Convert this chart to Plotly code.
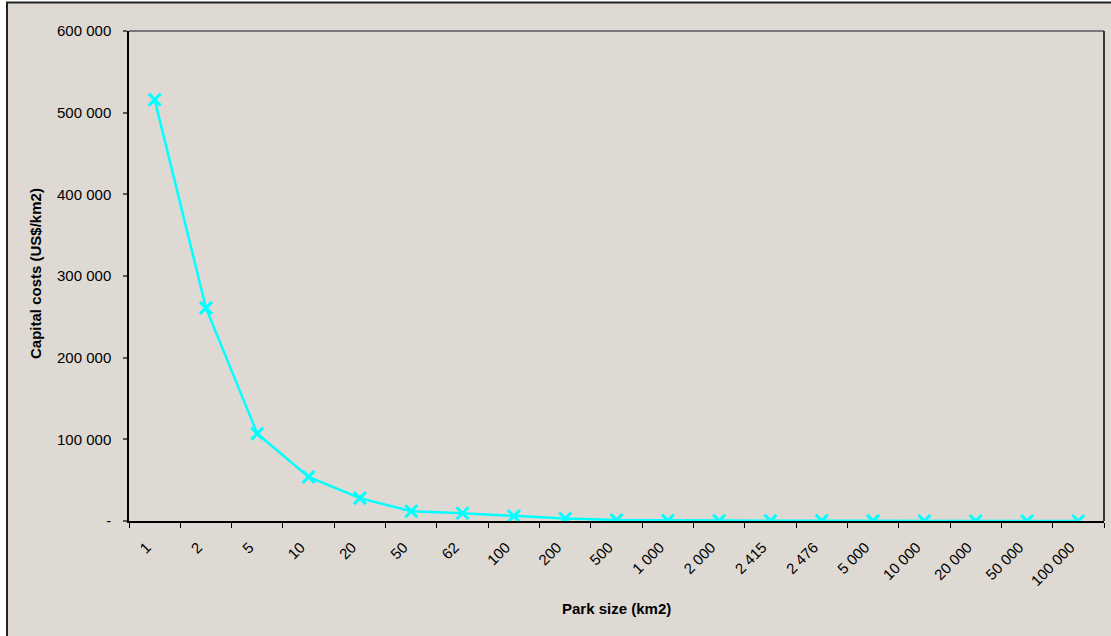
import plotly.graph_objects as go

# Park size categories (km2) and capital cost per km2 (US$)
park_sizes = ["1", "2", "5", "10", "20", "50", "62", "100", "200", "500",
              "1 000", "2 000", "2 415", "2 476", "5 000", "10 000",
              "20 000", "50 000", "100 000"]
capital_costs = [516000, 261000, 107000, 54000, 28000, 12000, 9500, 6000,
                 3000, 1200, 600, 300, 250, 240, 120, 60, 30, 12, 6]

y_tick_values = [0, 100000, 200000, 300000, 400000, 500000, 600000]
y_tick_labels = ["-", "100 000", "200 000", "300 000", "400 000", "500 000", "600 000"]

BG = "#DFD9D3"
CYAN = "#00FFFF"
FONT = "Liberation Sans, Arial, sans-serif"

W, H = 1111, 636
L, R, T, B = 129, 7, 31, 115
pw, ph = W - L - R, H - T - B


def px_to_paper_x(px):
    return (px - L) / pw


def px_to_paper_y(py):
    return (H - B - py) / ph


fig = go.Figure()
fig.add_trace(go.Scatter(
    x=park_sizes,
    y=capital_costs,
    mode="lines+markers",
    line=dict(color=CYAN, width=2.5),
    marker=dict(symbol="x-thin", size=12, color=CYAN,
                line=dict(color=CYAN, width=3)),
    showlegend=False,
    hoverinfo="x+y",
))

fig.update_layout(
    width=W, height=H,
    margin=dict(l=L, r=R, t=T, b=B, pad=0),
    paper_bgcolor="white",
    plot_bgcolor=BG,
    font=dict(family=FONT, size=15, color="black"),
    xaxis=dict(
        type="category",
        tickson="boundaries",
        ticks="outside", ticklen=5, tickcolor="black", tickwidth=1,
        showline=True, linecolor="black", linewidth=1.5,
        showgrid=False, zeroline=False,
        tickangle=-45,
        tickfont=dict(size=15, family=FONT),
        ticklabelstandoff=10,
        ticklabelshift=-8,
        range=[-0.5, len(park_sizes) - 0.5],
    ),
    yaxis=dict(
        range=[0, 600000],
        tickvals=y_tick_values, ticktext=y_tick_labels,
        ticks="outside", ticklen=4, tickcolor="#555555", tickwidth=1.5,
        showline=True, linecolor="black", linewidth=1.5,
        showgrid=False, zeroline=False,
        tickfont=dict(size=15, family=FONT),
        ticklabelstandoff=9,
    ),
    shapes=[
        # outer frame of the chart area
        dict(type="rect", xref="paper", yref="paper", layer="below",
             x0=px_to_paper_x(7), x1=px_to_paper_x(1120),
             y0=px_to_paper_y(645), y1=px_to_paper_y(2.5),
             fillcolor=BG, line=dict(color="#222222", width=2)),
        # top edge of the plot area
        dict(type="line", xref="paper", yref="paper",
             x0=0, x1=1, y0=1, y1=1,
             line=dict(color="#777777", width=2)),
        # right edge of the plot area
        dict(type="line", xref="paper", yref="paper",
             x0=1, x1=1, y0=0, y1=1,
             line=dict(color="black", width=1.5)),
    ],
    annotations=[
        dict(text="<b>Park size (km2)</b>", xref="paper", yref="paper",
             x=px_to_paper_x(616.5), y=px_to_paper_y(608), xanchor="center", yanchor="middle",
             showarrow=False, font=dict(size=15, family=FONT)),
        dict(text="<b>Capital costs (US$/km2)</b>", xref="paper", yref="paper",
             x=px_to_paper_x(35), y=px_to_paper_y(274), xanchor="center", yanchor="middle",
             textangle=-90, showarrow=False, font=dict(size=15, family=FONT)),
    ],
)

fig.write_html("out.html")
